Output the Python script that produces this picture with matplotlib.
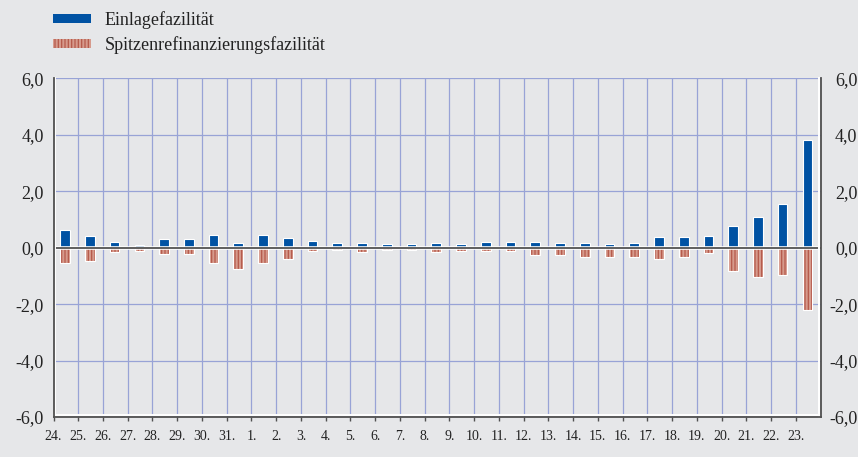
import numpy as np
import matplotlib
matplotlib.use("Agg")
import matplotlib.pyplot as plt
from matplotlib.patches import Patch
from matplotlib.transforms import ScaledTranslation

# ---------------------------------------------------------------------------
# Data (Mrd EUR)
# ---------------------------------------------------------------------------
days = ["24.", "25.", "26.", "27.", "28.", "29.", "30.", "31.",
        "1.", "2.", "3.", "4.", "5.", "6.", "7.", "8.", "9.", "10.",
        "11.", "12.", "13.", "14.", "15.", "16.", "17.", "18.", "19.",
        "20.", "21.", "22.", "23."]

einlage = [0.62, 0.40, 0.20, 0.10, 0.31, 0.30, 0.45, 0.15,
           0.45, 0.35, 0.22, 0.18, 0.18, 0.12, 0.12, 0.15, 0.13, 0.19,
           0.19, 0.20, 0.17, 0.18, 0.14, 0.18, 0.38, 0.38, 0.40,
           0.75, 1.10, 1.54, 3.82]

spitzen = [-0.55, -0.48, -0.15, -0.13, -0.22, -0.22, -0.55, -0.75,
           -0.55, -0.40, -0.13, -0.07, -0.15, -0.07, -0.09, -0.15, -0.13, -0.12,
           -0.12, -0.25, -0.25, -0.34, -0.32, -0.34, -0.40, -0.32, -0.19,
           -0.81, -1.04, -0.97, -2.22]

y_ticks = [-6, -4, -2, 0, 2, 4, 6]
y_labels = ["-6,0", "-4,0", "-2,0", "0,0", "2,0", "4,0", "6,0"]

# ---------------------------------------------------------------------------
# Style
# ---------------------------------------------------------------------------
BG = "#e6e7e9"
BLUE = "#0052a3"
SALMON = "#d69a8c"
STRIPE = "#b55a4b"
GRID = "#98a3d6"
AXIS = "#505050"
TXT = "#222222"

plt.rcParams["font.family"] = "Liberation Serif"
plt.rcParams["hatch.linewidth"] = 0.9

fig = plt.figure(figsize=(8.58, 4.57), dpi=100, facecolor=BG)
W, H = 858, 457
left, right, top, bottom = 53.5, 820.5, 78.3, 417.0
ax = fig.add_axes([left / W, 1 - bottom / H, (right - left) / W, (bottom - top) / H])
ax.set_facecolor(BG)

x = np.arange(len(days))
xc = x + 0.47          # bars sit a little left of the day's centre
bw = 0.39

ax.bar(xc, einlage, width=bw, color=BLUE, edgecolor="white", linewidth=0.8, zorder=3)
ax.bar(xc, spitzen, width=bw, color=SALMON, edgecolor=STRIPE, hatch="|||||",
       linewidth=0, zorder=3)
ax.bar(xc, spitzen, width=bw, fill=False, edgecolor="white", linewidth=0.8, zorder=4)

# zero line
ax.axhline(0, color="white", lw=2.6, zorder=4.5)
ax.axhline(0, color="#333333", lw=1.1, zorder=5)

ax.set_xlim(0, len(days))
ax.set_ylim(-6, 6)
ax.set_xticks(x)
ax.set_xticklabels(days, fontsize=10)
ax.set_yticks(y_ticks)
ax.set_yticklabels(y_labels, fontsize=13)

ax.grid(True, color=GRID, lw=0.9, zorder=1)
ax.set_axisbelow(True)

ax.tick_params(axis="x", direction="out", length=3, width=1, color=AXIS,
               pad=6, labelcolor=TXT)
ax.tick_params(axis="y", length=0, pad=7, labelcolor=TXT,
               right=True, labelright=True)

# right-hand labels are right-aligned near the figure edge
off = ScaledTranslation(27 / 100, 0, fig.dpi_scale_trans)
for t in ax.yaxis.get_major_ticks():
    t.label2.set_horizontalalignment("right")
    t.label2.set_transform(t.label2.get_transform() + off)

ax.spines["top"].set_visible(False)
for s in ["left", "right", "bottom"]:
    ax.spines[s].set_color(AXIS)
    ax.spines[s].set_linewidth(1.3)
    ax.spines[s].set_zorder(6)

# white inner edges along the frame
for xs, ys, dx, dy in [([0, 0], [0, 1], 1.6, 0), ([1, 1], [0, 1], -1.6, 0),
                       ([0, 1], [0, 0], 0, 1.6)]:
    tr = ax.transAxes + ScaledTranslation(dx / 100, dy / 100, fig.dpi_scale_trans)
    ax.plot(xs, ys, color="white", lw=1.4, transform=tr, clip_on=False, zorder=5.5)

handles = [
    Patch(facecolor=BLUE, edgecolor=BLUE, linewidth=0),
    Patch(facecolor=SALMON, edgecolor=STRIPE, hatch="|||||", linewidth=0),
]
fig.legend(handles, ["Einlagefazilität", "Spitzenrefinanzierungsfazilität"],
           loc="upper left", bbox_to_anchor=(53 / W, 1 - 11 / H),
           frameon=False, fontsize=13, handlelength=2.1, handleheight=0.45,
           handletextpad=0.75, labelspacing=0.4, borderpad=0, borderaxespad=0,
           labelcolor=TXT)

fig.savefig("out.png", dpi=100, facecolor=BG)
